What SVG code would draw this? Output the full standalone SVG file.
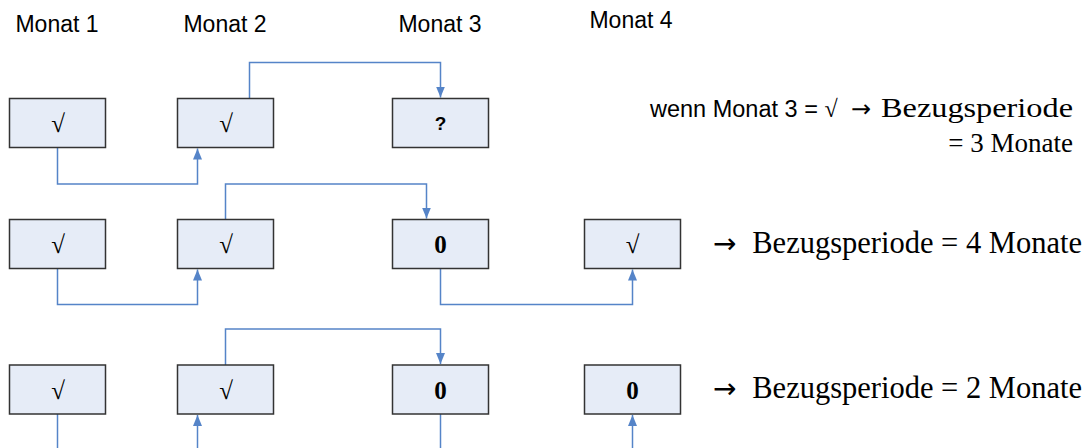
<svg xmlns="http://www.w3.org/2000/svg" width="1088" height="448" viewBox="0 0 1088 448">
<style>
.box{fill:#E6ECF7;stroke:#333333;stroke-width:1.5}
.hdr{font-family:"Liberation Sans",Arial,sans-serif;font-size:23px;fill:#000;text-anchor:middle}
.sym{font-family:"Liberation Serif","Times New Roman",serif;font-size:25px;fill:#000;text-anchor:middle}
.bold0{font-family:"Liberation Serif","Times New Roman",serif;font-size:25px;font-weight:bold;fill:#000;text-anchor:middle}
.q{font-family:"Liberation Sans",Arial,sans-serif;font-size:19px;font-weight:bold;fill:#000;text-anchor:middle}
.conn{fill:none;stroke:#5584C8;stroke-width:1.5}
.sans{font-family:"Liberation Sans",Arial,sans-serif;font-size:23.5px;fill:#000}
.serif{font-family:"Liberation Serif","Times New Roman",serif;fill:#000}
.arrow{font-family:"DejaVu Sans",sans-serif;fill:#000}
</style>
<defs>
<marker id="arr" markerUnits="userSpaceOnUse" markerWidth="12" markerHeight="12" viewBox="0 0 12 12" refX="11" refY="6" orient="auto">
<path d="M0,1.5 L11,6 L0,10.5 Z" fill="#5584C8"/>
</marker>
</defs>
<g id="headers">
<text class="hdr" x="57" y="32">Monat 1</text>
<text class="hdr" x="225" y="32">Monat 2</text>
<text class="hdr" x="440" y="32">Monat 3</text>
<text class="hdr" x="631" y="28">Monat 4</text>
</g>
<g id="connectors">
<path class="conn" d="M57.5 147.5 V184 H197.5 V148.5" marker-end="url(#arr)"/>
<path class="conn" d="M249.5 98.5 V62.5 H440.5 V97.5" marker-end="url(#arr)"/>
<path class="conn" d="M225.5 219.5 V184 H426.5 V218.5" marker-end="url(#arr)"/>
<path class="conn" d="M57.5 268.5 V304.5 H197.5 V269.5" marker-end="url(#arr)"/>
<path class="conn" d="M440.5 268.5 V304.5 H632.5 V269.5" marker-end="url(#arr)"/>
<path class="conn" d="M225.5 365 V329 H440.5 V364" marker-end="url(#arr)"/>
<path class="conn" d="M57.5 414 V448"/>
<path class="conn" d="M197.5 448 V415" marker-end="url(#arr)"/>
<path class="conn" d="M440.5 414 V448"/>
<path class="conn" d="M632.5 448 V415" marker-end="url(#arr)"/>
</g>
<g id="r1c1"><rect class="box" x="9.5" y="98.5" width="96" height="49"/><text class="sym" x="58" y="132">√</text></g>
<g id="r1c2"><rect class="box" x="177.5" y="98.5" width="96" height="49"/><text class="sym" x="226" y="132">√</text></g>
<g id="r1c3"><rect class="box" x="392.5" y="98.5" width="96" height="49"/><text class="q" x="440.5" y="130">?</text></g>
<g id="r2c1"><rect class="box" x="9.5" y="219.5" width="96" height="49"/><text class="sym" x="58" y="253">√</text></g>
<g id="r2c2"><rect class="box" x="177.5" y="219.5" width="96" height="49"/><text class="sym" x="226" y="253">√</text></g>
<g id="r2c3"><rect class="box" x="392.5" y="219.5" width="96" height="49"/><text class="bold0" x="440.5" y="253">0</text></g>
<g id="r2c4"><rect class="box" x="584.5" y="219.5" width="96" height="49"/><text class="sym" x="632.5" y="253">√</text></g>
<g id="r3c1"><rect class="box" x="9.5" y="365" width="96" height="49"/><text class="sym" x="58" y="398.5">√</text></g>
<g id="r3c2"><rect class="box" x="177.5" y="365" width="96" height="49"/><text class="sym" x="226" y="398.5">√</text></g>
<g id="r3c3"><rect class="box" x="392.5" y="365" width="96" height="49"/><text class="bold0" x="440.5" y="398.5">0</text></g>
<g id="r3c4"><rect class="box" x="584.5" y="365" width="96" height="49"/><text class="bold0" x="632.5" y="398.5">0</text></g>
<g id="note1">
<text class="sans" x="650" y="117">wenn Monat 3 = <tspan class="serif" font-size="24">√</tspan></text>
<text class="arrow" font-size="24" x="851" y="117">→</text>
<text class="serif" font-size="28" x="881" y="117" textLength="192" lengthAdjust="spacingAndGlyphs">Bezugsperiode</text>
<text class="serif" font-size="27" x="1073" y="152" text-anchor="end">= 3 Monate</text>
</g>
<g id="note2"><text class="arrow" font-size="28" x="713" y="253">→</text><text class="serif" font-size="30.5" x="1082" y="253" text-anchor="end">Bezugsperiode = 4 Monate</text></g>
<g id="note3"><text class="arrow" font-size="28" x="713" y="398">→</text><text class="serif" font-size="30.5" x="1082" y="398" text-anchor="end">Bezugsperiode = 2 Monate</text></g>
</svg>
